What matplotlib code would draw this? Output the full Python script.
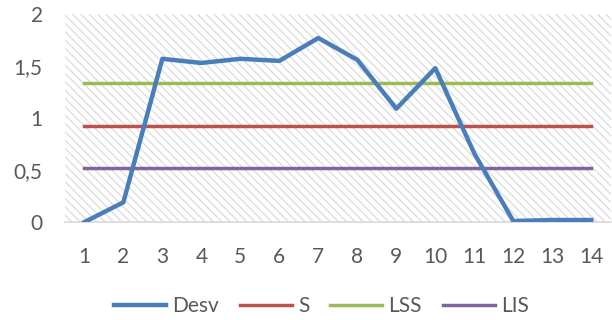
import matplotlib.pyplot as plt
from matplotlib.patches import Rectangle
from matplotlib.ticker import FuncFormatter

# Datos
muestras = list(range(1, 15))
desv = [0.0, 0.19, 1.57, 1.53, 1.57, 1.55, 1.77, 1.56, 1.09, 1.48, 0.66, 0.01, 0.02, 0.02]
s_val = 0.926
lss_val = 1.34
lis_val = 0.516

plt.rcParams['font.family'] = ['Lato', 'DejaVu Sans']
plt.rcParams['hatch.linewidth'] = 0.9
gris = '#595959'

fig = plt.figure(figsize=(6.12, 3.2), dpi=100)
ax = fig.add_axes([0.106, 0.306, 0.892, 0.65])

# fondo rayado del área de trazado
ax.add_patch(Rectangle((0, 0), 1, 1, transform=ax.transAxes, fill=False,
                       hatch='\\\\\\\\', edgecolor='#dcdcdc', lw=0, zorder=0))

n = len(muestras)
ax.plot(muestras, desv, color='#4a7ebb', lw=3.2, label='Desv', zorder=3,
        solid_joinstyle='round')
ax.plot(muestras, [s_val] * n, color='#c0504d', lw=2.5, label='S', zorder=2)
ax.plot(muestras, [lss_val] * n, color='#9bbb59', lw=2.5, label='LSS', zorder=2)
ax.plot(muestras, [lis_val] * n, color='#8064a2', lw=2.5, label='LIS', zorder=2)

ax.set_xlim(0.5, 14.5)
ax.set_ylim(0, 2)
ax.set_xticks(muestras)
ax.set_yticks([0, 0.5, 1, 1.5, 2])
ax.yaxis.set_major_formatter(FuncFormatter(lambda v, p: f'{v:g}'.replace('.', ',')))

for side in ['top', 'right', 'left']:
    ax.spines[side].set_visible(False)
ax.spines['bottom'].set_color('#d9d9d9')
ax.spines['bottom'].set_linewidth(1.2)
ax.tick_params(axis='both', length=0, labelsize=15, labelcolor=gris)
ax.tick_params(axis='x', pad=18)
ax.tick_params(axis='y', pad=16)

leg = fig.legend(loc='center', bbox_to_anchor=(0.525, 0.044), ncol=4, frameon=False,
                 fontsize=15, handlelength=2.5, handletextpad=0.3, columnspacing=1.0)
for t in leg.get_texts():
    t.set_color(gris)

fig.savefig('out.png', dpi=100)
